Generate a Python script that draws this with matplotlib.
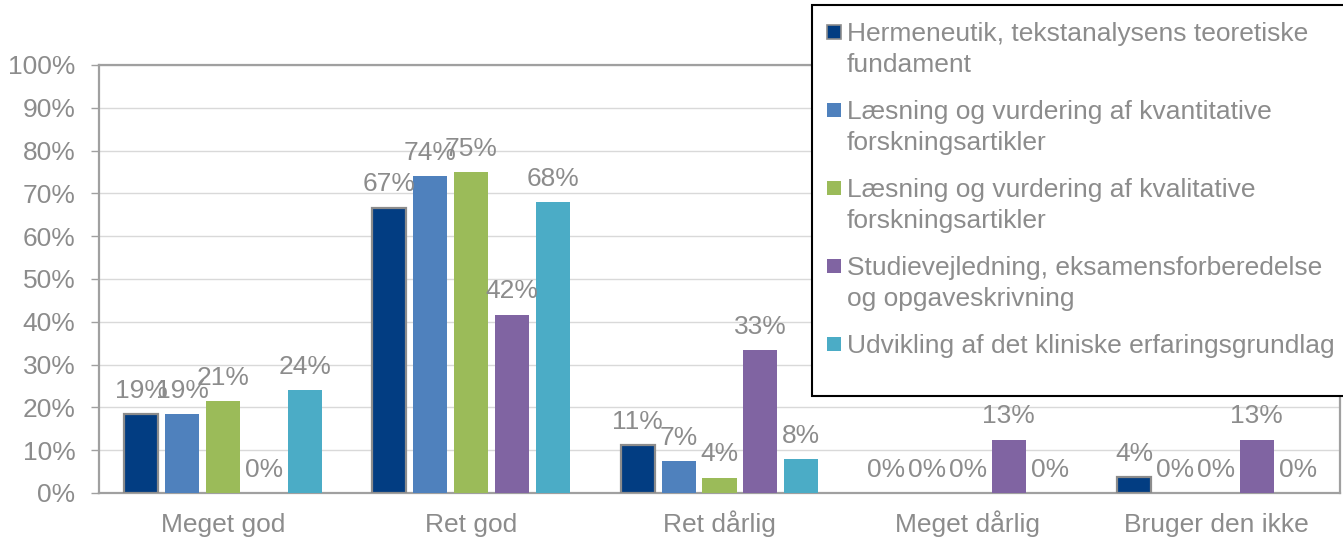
import matplotlib
matplotlib.use("Agg")
import matplotlib.pyplot as plt
import numpy as np
from matplotlib.patches import Rectangle
from matplotlib.ticker import MultipleLocator, FuncFormatter

plt.rcParams['font.family'] = ['Liberation Sans', 'DejaVu Sans']

categories = ["Meget god", "Ret god", "Ret dårlig", "Meget dårlig", "Bruger den ikke"]
series_names = [
    "Hermeneutik, tekstanalysens teoretiske\nfundament",
    "Læsning og vurdering af kvantitative\nforskningsartikler",
    "Læsning og vurdering af kvalitative\nforskningsartikler",
    "Studievejledning, eksamensforberedelse\nog opgaveskrivning",
    "Udvikling af det kliniske erfaringsgrundlag",
]
hermeneutik = [18.5, 66.7, 11.1, 0.0, 3.7]
kvantitative = [18.5, 74.1, 7.4, 0.0, 0.0]
kvalitative = [21.4, 75.0, 3.6, 0.0, 0.0]
studievejledning = [0.0, 41.7, 33.3, 12.5, 12.5]
klinisk = [24.0, 68.0, 8.0, 0.0, 0.0]
series_values = [hermeneutik, kvantitative, kvalitative, studievejledning, klinisk]
colors = ["#023d82", "#4f81bd", "#9bbb59", "#8064a2", "#4bacc6"]

grey = "#8c8c8c"
fs = 19
W, H = 1343, 542
fig = plt.figure(figsize=(W / 100, H / 100), dpi=100)
ax = fig.add_axes([99 / W, (H - 493) / H, (1340 - 99) / W, (493 - 65) / H])

x = np.arange(len(categories))
pitch = 0.165
width = 0.137
for i, (vals, col) in enumerate(zip(series_values, colors)):
    pos = x + (i - 2) * pitch
    edges = ["#8c8c8c" if (i == 0 and v > 0) else "none" for v in vals]
    bars = ax.bar(pos, vals, width, color=col, edgecolor=edges,
                  linewidth=1.6 if i == 0 else 0, zorder=3)
    for b, v in zip(bars, vals):
        ax.annotate(f"{int(v + 0.5)}%", (b.get_x() + b.get_width() / 2, v),
                    xytext=(0, 8), textcoords="offset points",
                    ha="center", va="bottom", fontsize=fs, color=grey, zorder=4)

ax.set_xlim(-0.5, len(categories) - 0.5)
ax.set_ylim(0, 100)
ax.yaxis.set_major_locator(MultipleLocator(10))
ax.yaxis.set_major_formatter(FuncFormatter(lambda v, p: f"{int(round(v))}%"))
ax.set_xticks(x)
ax.set_xticklabels(categories)
ax.grid(axis="y", color="#d9d9d9", linewidth=1, zorder=0)
ax.set_axisbelow(True)
for s in ax.spines.values():
    s.set_color("#a0a0a0")
    s.set_linewidth(1.6)
ax.tick_params(axis="y", length=6, width=1, color="#a0a0a0", pad=11, labelsize=fs, labelcolor=grey)
ax.tick_params(axis="x", length=0, pad=28, labelsize=fs, labelcolor=grey)
for lbl in ax.get_xticklabels():
    lbl.set_verticalalignment("baseline")

# legend box, drawn by hand so the squares sit on the first line
fig.add_artist(Rectangle((812 / W, 1 - 396 / H), (1360 - 812) / W, (396 - 5) / H,
                         transform=fig.transFigure, facecolor="white",
                         edgecolor="black", linewidth=1.5, zorder=5))
for i, (name, col) in enumerate(zip(series_names, colors)):
    yc = 32 + 78 * i
    ec = "#8c8c8c" if i == 0 else "none"
    fig.add_artist(Rectangle((827 / W, 1 - (yc + 7) / H), 14 / W, 14 / H,
                             transform=fig.transFigure, facecolor=col,
                             edgecolor=ec, linewidth=1.2, zorder=6))
    for j, line in enumerate(name.split("\n")):
        fig.text(847 / W, 1 - (yc + 31 * j + 9) / H, line, ha="left", va="baseline",
                 fontsize=fs, color=grey, zorder=6)

fig.savefig("out.png", dpi=100)
